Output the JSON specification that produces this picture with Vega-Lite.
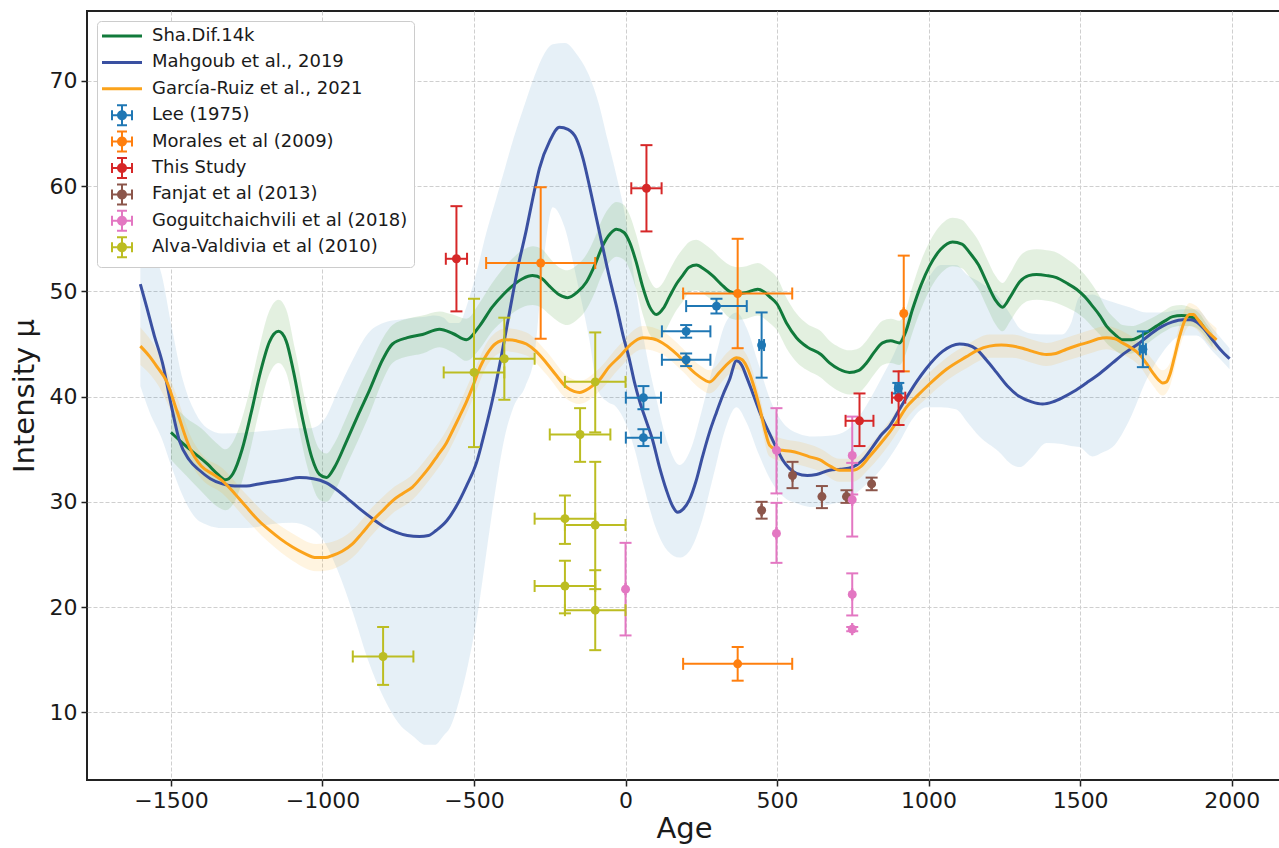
{
  "$schema": "https://vega.github.io/schema/vega-lite/v6.json",
  "autosize": {"type": "none"},
  "width": 1194,
  "height": 769,
  "padding": {"left": 87, "top": 11, "right": -2, "bottom": 68},
  "background": "white",
  "datasets": {
    "green": [
      {"age": -1500, "v": 36.6}, {"age": -1470, "v": 35.8}, {"age": -1430, "v": 34.8}, {"age": -1380, "v": 33.6}, {"age": -1345, "v": 32.6}, {"age": -1320, "v": 32.1}, {"age": -1295, "v": 32.7}, {"age": -1265, "v": 35.0}, {"age": -1235, "v": 38.5}, {"age": -1205, "v": 42.3}, {"age": -1175, "v": 45.2}, {"age": -1145, "v": 46.2}, {"age": -1120, "v": 45.3}, {"age": -1095, "v": 42.3}, {"age": -1065, "v": 37.8}, {"age": -1035, "v": 34.2}, {"age": -1010, "v": 32.6}, {"age": -987, "v": 32.3}, {"age": -960, "v": 33.3}, {"age": -920, "v": 35.8}, {"age": -880, "v": 38.4}, {"age": -845, "v": 40.6}, {"age": -800, "v": 43.6}, {"age": -769, "v": 45.0}, {"age": -720, "v": 45.6}, {"age": -670, "v": 45.9}, {"age": -614, "v": 46.4}, {"age": -570, "v": 46.0}, {"age": -525, "v": 45.4}, {"age": -482, "v": 46.7}, {"age": -440, "v": 48.5}, {"age": -400, "v": 49.8}, {"age": -340, "v": 51.2}, {"age": -307, "v": 51.5}, {"age": -275, "v": 51.2}, {"age": -251, "v": 50.5}, {"age": -220, "v": 49.7}, {"age": -191, "v": 49.4}, {"age": -160, "v": 49.9}, {"age": -129, "v": 50.9}, {"age": -100, "v": 52.6}, {"age": -76, "v": 54.3}, {"age": -50, "v": 55.5}, {"age": -30, "v": 55.9}, {"age": -5, "v": 55.6}, {"age": 13, "v": 54.7}, {"age": 35, "v": 52.8}, {"age": 56, "v": 50.5}, {"age": 80, "v": 48.5}, {"age": 102, "v": 47.8}, {"age": 125, "v": 48.4}, {"age": 145, "v": 49.5}, {"age": 170, "v": 50.8}, {"age": 188, "v": 51.5}, {"age": 210, "v": 52.3}, {"age": 234, "v": 52.5}, {"age": 260, "v": 52.1}, {"age": 287, "v": 51.5}, {"age": 315, "v": 50.7}, {"age": 343, "v": 50.0}, {"age": 370, "v": 49.8}, {"age": 399, "v": 49.9}, {"age": 436, "v": 50.2}, {"age": 460, "v": 49.9}, {"age": 475, "v": 49.5}, {"age": 500, "v": 48.8}, {"age": 531, "v": 47.0}, {"age": 564, "v": 45.6}, {"age": 600, "v": 44.7}, {"age": 645, "v": 44.0}, {"age": 673, "v": 43.2}, {"age": 705, "v": 42.6}, {"age": 739, "v": 42.3}, {"age": 770, "v": 42.5}, {"age": 795, "v": 43.2}, {"age": 820, "v": 44.2}, {"age": 848, "v": 45.1}, {"age": 875, "v": 45.3}, {"age": 904, "v": 45.1}, {"age": 925, "v": 46.2}, {"age": 947, "v": 48.3}, {"age": 975, "v": 50.6}, {"age": 1003, "v": 52.4}, {"age": 1040, "v": 54.0}, {"age": 1079, "v": 54.7}, {"age": 1110, "v": 54.5}, {"age": 1135, "v": 53.7}, {"age": 1165, "v": 52.5}, {"age": 1191, "v": 50.9}, {"age": 1220, "v": 49.2}, {"age": 1244, "v": 48.5}, {"age": 1270, "v": 49.5}, {"age": 1300, "v": 50.9}, {"age": 1330, "v": 51.5}, {"age": 1356, "v": 51.6}, {"age": 1390, "v": 51.5}, {"age": 1422, "v": 51.3}, {"age": 1455, "v": 50.8}, {"age": 1488, "v": 50.2}, {"age": 1515, "v": 49.5}, {"age": 1541, "v": 48.6}, {"age": 1565, "v": 47.7}, {"age": 1587, "v": 46.7}, {"age": 1615, "v": 45.9}, {"age": 1640, "v": 45.4}, {"age": 1670, "v": 45.4}, {"age": 1696, "v": 45.7}, {"age": 1725, "v": 46.2}, {"age": 1752, "v": 46.7}, {"age": 1780, "v": 47.2}, {"age": 1805, "v": 47.6}, {"age": 1835, "v": 47.7}, {"age": 1861, "v": 47.6}, {"age": 1894, "v": 47.1}, {"age": 1915, "v": 46.3}, {"age": 1937, "v": 45.4}
    ],
    "gband": [
      {"age": -1500, "lo": 34.0, "hi": 39.5}, {"age": -1450, "lo": 32.5, "hi": 38.0}, {"age": -1400, "lo": 31.0, "hi": 37.0}, {"age": -1350, "lo": 29.6, "hi": 35.6}, {"age": -1320, "lo": 29.2, "hi": 35.0}, {"age": -1290, "lo": 30.0, "hi": 36.0}, {"age": -1250, "lo": 33.5, "hi": 39.5}, {"age": -1210, "lo": 38.5, "hi": 44.5}, {"age": -1180, "lo": 41.8, "hi": 47.8}, {"age": -1145, "lo": 43.2, "hi": 49.2}, {"age": -1120, "lo": 42.3, "hi": 48.3}, {"age": -1090, "lo": 38.6, "hi": 44.4}, {"age": -1050, "lo": 33.3, "hi": 38.7}, {"age": -1010, "lo": 30.2, "hi": 35.0}, {"age": -987, "lo": 30.0, "hi": 34.6}, {"age": -960, "lo": 31.0, "hi": 35.6}, {"age": -920, "lo": 33.5, "hi": 38.1}, {"age": -880, "lo": 36.0, "hi": 40.8}, {"age": -845, "lo": 38.3, "hi": 42.9}, {"age": -800, "lo": 41.6, "hi": 45.6}, {"age": -769, "lo": 43.2, "hi": 46.8}, {"age": -720, "lo": 43.8, "hi": 47.4}, {"age": -670, "lo": 44.1, "hi": 47.7}, {"age": -614, "lo": 44.7, "hi": 48.1}, {"age": -570, "lo": 44.2, "hi": 47.8}, {"age": -525, "lo": 43.4, "hi": 47.4}, {"age": -482, "lo": 44.5, "hi": 48.9}, {"age": -440, "lo": 46.2, "hi": 50.8}, {"age": -400, "lo": 47.3, "hi": 52.3}, {"age": -340, "lo": 48.5, "hi": 53.9}, {"age": -307, "lo": 48.7, "hi": 54.3}, {"age": -275, "lo": 48.4, "hi": 54.0}, {"age": -251, "lo": 47.8, "hi": 53.2}, {"age": -220, "lo": 47.1, "hi": 52.3}, {"age": -191, "lo": 46.8, "hi": 52.0}, {"age": -160, "lo": 47.3, "hi": 52.5}, {"age": -129, "lo": 48.3, "hi": 53.5}, {"age": -100, "lo": 50.0, "hi": 55.2}, {"age": -76, "lo": 51.7, "hi": 56.9}, {"age": -50, "lo": 52.9, "hi": 58.1}, {"age": -30, "lo": 53.3, "hi": 58.5}, {"age": -5, "lo": 53.0, "hi": 58.2}, {"age": 13, "lo": 52.1, "hi": 57.3}, {"age": 35, "lo": 50.2, "hi": 55.4}, {"age": 56, "lo": 47.9, "hi": 53.1}, {"age": 80, "lo": 45.9, "hi": 51.1}, {"age": 102, "lo": 45.3, "hi": 50.3}, {"age": 125, "lo": 45.9, "hi": 50.9}, {"age": 145, "lo": 47.0, "hi": 52.0}, {"age": 170, "lo": 48.3, "hi": 53.3}, {"age": 188, "lo": 49.0, "hi": 54.0}, {"age": 210, "lo": 49.9, "hi": 54.7}, {"age": 234, "lo": 50.1, "hi": 54.9}, {"age": 260, "lo": 49.7, "hi": 54.5}, {"age": 287, "lo": 49.1, "hi": 53.9}, {"age": 315, "lo": 48.3, "hi": 53.1}, {"age": 343, "lo": 47.5, "hi": 52.5}, {"age": 370, "lo": 47.3, "hi": 52.3}, {"age": 399, "lo": 47.4, "hi": 52.4}, {"age": 436, "lo": 47.7, "hi": 52.7}, {"age": 475, "lo": 47.0, "hi": 52.0}, {"age": 500, "lo": 46.3, "hi": 51.3}, {"age": 531, "lo": 44.6, "hi": 49.4}, {"age": 564, "lo": 43.3, "hi": 47.9}, {"age": 600, "lo": 42.5, "hi": 46.9}, {"age": 645, "lo": 41.8, "hi": 46.2}, {"age": 673, "lo": 41.1, "hi": 45.3}, {"age": 705, "lo": 40.5, "hi": 44.7}, {"age": 739, "lo": 40.2, "hi": 44.4}, {"age": 770, "lo": 40.4, "hi": 44.6}, {"age": 795, "lo": 41.1, "hi": 45.3}, {"age": 820, "lo": 42.1, "hi": 46.3}, {"age": 848, "lo": 43.0, "hi": 47.2}, {"age": 875, "lo": 43.2, "hi": 47.4}, {"age": 904, "lo": 43.0, "hi": 47.2}, {"age": 925, "lo": 44.1, "hi": 48.3}, {"age": 947, "lo": 46.1, "hi": 50.5}, {"age": 975, "lo": 48.3, "hi": 52.9}, {"age": 1003, "lo": 50.1, "hi": 54.7}, {"age": 1040, "lo": 51.7, "hi": 56.3}, {"age": 1079, "lo": 52.4, "hi": 57.0}, {"age": 1110, "lo": 52.2, "hi": 56.8}, {"age": 1135, "lo": 51.4, "hi": 56.0}, {"age": 1165, "lo": 50.2, "hi": 54.8}, {"age": 1191, "lo": 48.6, "hi": 53.2}, {"age": 1220, "lo": 46.9, "hi": 51.5}, {"age": 1244, "lo": 46.2, "hi": 50.8}, {"age": 1270, "lo": 47.2, "hi": 51.8}, {"age": 1300, "lo": 48.5, "hi": 53.3}, {"age": 1330, "lo": 49.1, "hi": 53.9}, {"age": 1356, "lo": 49.2, "hi": 54.0}, {"age": 1390, "lo": 49.1, "hi": 53.9}, {"age": 1422, "lo": 48.9, "hi": 53.7}, {"age": 1455, "lo": 48.5, "hi": 53.1}, {"age": 1488, "lo": 48.0, "hi": 52.4}, {"age": 1515, "lo": 47.4, "hi": 51.6}, {"age": 1541, "lo": 46.6, "hi": 50.6}, {"age": 1565, "lo": 45.9, "hi": 49.5}, {"age": 1587, "lo": 45.1, "hi": 48.3}, {"age": 1615, "lo": 44.4, "hi": 47.4}, {"age": 1640, "lo": 44.0, "hi": 46.8}, {"age": 1670, "lo": 44.1, "hi": 46.7}, {"age": 1696, "lo": 44.5, "hi": 46.9}, {"age": 1725, "lo": 45.1, "hi": 47.3}, {"age": 1752, "lo": 45.7, "hi": 47.7}, {"age": 1780, "lo": 46.2, "hi": 48.2}, {"age": 1805, "lo": 46.6, "hi": 48.6}, {"age": 1835, "lo": 46.7, "hi": 48.7}, {"age": 1861, "lo": 46.7, "hi": 48.5}, {"age": 1894, "lo": 46.3, "hi": 47.9}, {"age": 1915, "lo": 45.6, "hi": 47.0}, {"age": 1937, "lo": 44.7, "hi": 46.1}
    ],
    "blue": [
      {"age": -1601, "v": 50.7}, {"age": -1580, "v": 48.5}, {"age": -1555, "v": 45.8}, {"age": -1528, "v": 43.2}, {"age": -1500, "v": 39.3}, {"age": -1472, "v": 35.8}, {"age": -1440, "v": 34.0}, {"age": -1406, "v": 33.0}, {"age": -1370, "v": 32.2}, {"age": -1330, "v": 31.7}, {"age": -1290, "v": 31.5}, {"age": -1251, "v": 31.5}, {"age": -1210, "v": 31.7}, {"age": -1165, "v": 31.9}, {"age": -1120, "v": 32.1}, {"age": -1076, "v": 32.3}, {"age": -1030, "v": 32.2}, {"age": -987, "v": 31.8}, {"age": -955, "v": 31.2}, {"age": -921, "v": 30.4}, {"age": -880, "v": 29.4}, {"age": -835, "v": 28.4}, {"age": -795, "v": 27.6}, {"age": -756, "v": 27.1}, {"age": -720, "v": 26.8}, {"age": -680, "v": 26.7}, {"age": -650, "v": 26.8}, {"age": -624, "v": 27.3}, {"age": -590, "v": 28.2}, {"age": -558, "v": 29.6}, {"age": -525, "v": 31.5}, {"age": -492, "v": 33.7}, {"age": -465, "v": 36.6}, {"age": -439, "v": 39.7}, {"age": -410, "v": 43.8}, {"age": -383, "v": 48.0}, {"age": -355, "v": 52.3}, {"age": -327, "v": 55.9}, {"age": -305, "v": 59.0}, {"age": -284, "v": 61.7}, {"age": -250, "v": 64.3}, {"age": -218, "v": 65.6}, {"age": -190, "v": 65.4}, {"age": -162, "v": 64.5}, {"age": -140, "v": 62.6}, {"age": -119, "v": 60.0}, {"age": -98, "v": 57.2}, {"age": -76, "v": 54.3}, {"age": -53, "v": 51.3}, {"age": -30, "v": 48.6}, {"age": -8, "v": 45.8}, {"age": 13, "v": 43.5}, {"age": 30, "v": 41.3}, {"age": 46, "v": 39.6}, {"age": 68, "v": 37.7}, {"age": 89, "v": 35.9}, {"age": 112, "v": 33.3}, {"age": 135, "v": 31.1}, {"age": 155, "v": 29.6}, {"age": 172, "v": 29.0}, {"age": 190, "v": 29.3}, {"age": 211, "v": 30.2}, {"age": 233, "v": 32.0}, {"age": 254, "v": 34.3}, {"age": 277, "v": 36.6}, {"age": 300, "v": 38.5}, {"age": 322, "v": 40.2}, {"age": 343, "v": 41.6}, {"age": 366, "v": 43.4}, {"age": 383, "v": 43.0}, {"age": 399, "v": 41.9}, {"age": 420, "v": 40.3}, {"age": 442, "v": 38.6}, {"age": 460, "v": 37.4}, {"age": 480, "v": 36.2}, {"age": 500, "v": 35.0}, {"age": 518, "v": 34.0}, {"age": 540, "v": 33.2}, {"age": 564, "v": 32.7}, {"age": 600, "v": 32.5}, {"age": 630, "v": 32.6}, {"age": 673, "v": 33.0}, {"age": 710, "v": 33.1}, {"age": 749, "v": 33.3}, {"age": 780, "v": 33.9}, {"age": 815, "v": 35.2}, {"age": 845, "v": 36.4}, {"age": 871, "v": 37.2}, {"age": 900, "v": 38.6}, {"age": 927, "v": 39.9}, {"age": 960, "v": 41.4}, {"age": 993, "v": 42.7}, {"age": 1046, "v": 44.3}, {"age": 1102, "v": 45.0}, {"age": 1130, "v": 44.9}, {"age": 1158, "v": 44.5}, {"age": 1190, "v": 43.5}, {"age": 1224, "v": 42.3}, {"age": 1260, "v": 41.0}, {"age": 1300, "v": 40.0}, {"age": 1340, "v": 39.5}, {"age": 1376, "v": 39.3}, {"age": 1410, "v": 39.5}, {"age": 1442, "v": 39.9}, {"age": 1480, "v": 40.5}, {"age": 1521, "v": 41.3}, {"age": 1565, "v": 42.2}, {"age": 1607, "v": 43.2}, {"age": 1650, "v": 44.2}, {"age": 1696, "v": 45.1}, {"age": 1735, "v": 46.0}, {"age": 1772, "v": 46.7}, {"age": 1805, "v": 47.1}, {"age": 1838, "v": 47.3}, {"age": 1865, "v": 47.3}, {"age": 1884, "v": 47.1}, {"age": 1910, "v": 46.4}, {"age": 1937, "v": 45.4}, {"age": 1965, "v": 44.4}, {"age": 1993, "v": 43.6}
    ],
    "bband": [
      {"age": -1601, "lo": 41.0, "hi": 57.0}, {"age": -1570, "lo": 38.5, "hi": 54.5}, {"age": -1530, "lo": 36.0, "hi": 51.5}, {"age": -1500, "lo": 33.5, "hi": 47.0}, {"age": -1460, "lo": 30.5, "hi": 41.5}, {"age": -1420, "lo": 28.5, "hi": 38.5}, {"age": -1380, "lo": 27.8, "hi": 37.0}, {"age": -1330, "lo": 27.5, "hi": 36.5}, {"age": -1250, "lo": 27.5, "hi": 36.6}, {"age": -1165, "lo": 27.9, "hi": 36.8}, {"age": -1100, "lo": 28.0, "hi": 37.0}, {"age": -1040, "lo": 27.5, "hi": 37.0}, {"age": -990, "lo": 26.0, "hi": 38.0}, {"age": -950, "lo": 23.5, "hi": 40.5}, {"age": -900, "lo": 19.5, "hi": 43.5}, {"age": -850, "lo": 15.0, "hi": 46.0}, {"age": -800, "lo": 11.5, "hi": 47.0}, {"age": -750, "lo": 9.0, "hi": 47.3}, {"age": -700, "lo": 7.7, "hi": 47.5}, {"age": -660, "lo": 6.9, "hi": 47.6}, {"age": -630, "lo": 6.9, "hi": 47.7}, {"age": -600, "lo": 7.8, "hi": 47.5}, {"age": -580, "lo": 8.5, "hi": 47.0}, {"age": -550, "lo": 11.0, "hi": 47.0}, {"age": -520, "lo": 14.5, "hi": 49.0}, {"age": -490, "lo": 19.0, "hi": 52.0}, {"age": -460, "lo": 25.0, "hi": 55.5}, {"age": -430, "lo": 31.0, "hi": 58.5}, {"age": -400, "lo": 36.0, "hi": 61.5}, {"age": -370, "lo": 39.0, "hi": 64.5}, {"age": -330, "lo": 41.0, "hi": 68.0}, {"age": -300, "lo": 44.0, "hi": 70.5}, {"age": -270, "lo": 53.0, "hi": 72.5}, {"age": -240, "lo": 58.0, "hi": 73.5}, {"age": -200, "lo": 56.0, "hi": 73.6}, {"age": -160, "lo": 51.0, "hi": 72.5}, {"age": -120, "lo": 45.5, "hi": 70.5}, {"age": -90, "lo": 40.5, "hi": 68.0}, {"age": -60, "lo": 39.5, "hi": 64.5}, {"age": -30, "lo": 39.0, "hi": 61.0}, {"age": 0, "lo": 37.5, "hi": 57.0}, {"age": 30, "lo": 35.0, "hi": 51.0}, {"age": 60, "lo": 31.5, "hi": 45.5}, {"age": 100, "lo": 27.5, "hi": 40.0}, {"age": 140, "lo": 25.3, "hi": 35.5}, {"age": 178, "lo": 24.7, "hi": 33.5}, {"age": 215, "lo": 25.5, "hi": 35.0}, {"age": 250, "lo": 28.0, "hi": 38.5}, {"age": 290, "lo": 32.5, "hi": 43.0}, {"age": 330, "lo": 37.0, "hi": 47.0}, {"age": 366, "lo": 39.0, "hi": 48.0}, {"age": 400, "lo": 37.5, "hi": 46.5}, {"age": 440, "lo": 34.5, "hi": 43.0}, {"age": 480, "lo": 32.0, "hi": 39.5}, {"age": 520, "lo": 30.5, "hi": 37.5}, {"age": 570, "lo": 29.8, "hi": 36.5}, {"age": 620, "lo": 29.5, "hi": 36.2}, {"age": 680, "lo": 29.8, "hi": 36.3}, {"age": 730, "lo": 30.2, "hi": 36.8}, {"age": 780, "lo": 31.3, "hi": 38.5}, {"age": 840, "lo": 33.0, "hi": 41.5}, {"age": 900, "lo": 35.5, "hi": 45.0}, {"age": 950, "lo": 38.0, "hi": 49.0}, {"age": 993, "lo": 39.0, "hi": 51.0}, {"age": 1040, "lo": 39.0, "hi": 52.5}, {"age": 1090, "lo": 38.8, "hi": 52.5}, {"age": 1130, "lo": 37.5, "hi": 51.5}, {"age": 1168, "lo": 36.2, "hi": 50.9}, {"age": 1230, "lo": 34.8, "hi": 49.5}, {"age": 1277, "lo": 33.5, "hi": 47.5}, {"age": 1300, "lo": 33.3, "hi": 46.5}, {"age": 1340, "lo": 34.2, "hi": 46.0}, {"age": 1389, "lo": 35.6, "hi": 45.9}, {"age": 1440, "lo": 35.5, "hi": 45.9}, {"age": 1470, "lo": 35.3, "hi": 47.0}, {"age": 1498, "lo": 35.2, "hi": 49.5}, {"age": 1541, "lo": 34.3, "hi": 49.7}, {"age": 1575, "lo": 34.7, "hi": 49.3}, {"age": 1607, "lo": 35.2, "hi": 49.0}, {"age": 1663, "lo": 37.8, "hi": 48.5}, {"age": 1719, "lo": 41.6, "hi": 48.0}, {"age": 1772, "lo": 44.2, "hi": 48.0}, {"age": 1838, "lo": 45.8, "hi": 48.3}, {"age": 1884, "lo": 45.8, "hi": 48.3}, {"age": 1937, "lo": 44.3, "hi": 46.5}, {"age": 1993, "lo": 42.6, "hi": 44.6}
    ],
    "orange": [
      {"age": -1601, "v": 44.8}, {"age": -1570, "v": 43.8}, {"age": -1545, "v": 42.8}, {"age": -1515, "v": 41.5}, {"age": -1480, "v": 38.6}, {"age": -1439, "v": 35.2}, {"age": -1400, "v": 33.4}, {"age": -1360, "v": 32.6}, {"age": -1330, "v": 32.0}, {"age": -1290, "v": 30.8}, {"age": -1251, "v": 29.5}, {"age": -1210, "v": 28.2}, {"age": -1175, "v": 27.3}, {"age": -1140, "v": 26.5}, {"age": -1099, "v": 25.7}, {"age": -1060, "v": 25.1}, {"age": -1020, "v": 24.7}, {"age": -990, "v": 24.7}, {"age": -967, "v": 24.9}, {"age": -935, "v": 25.3}, {"age": -901, "v": 26.0}, {"age": -870, "v": 27.0}, {"age": -835, "v": 28.2}, {"age": -800, "v": 29.2}, {"age": -769, "v": 30.1}, {"age": -735, "v": 30.8}, {"age": -703, "v": 31.4}, {"age": -675, "v": 32.3}, {"age": -647, "v": 33.3}, {"age": -620, "v": 34.4}, {"age": -591, "v": 35.6}, {"age": -570, "v": 36.8}, {"age": -548, "v": 38.1}, {"age": -525, "v": 39.5}, {"age": -505, "v": 40.9}, {"age": -480, "v": 42.8}, {"age": -449, "v": 44.4}, {"age": -420, "v": 45.2}, {"age": -393, "v": 45.4}, {"age": -360, "v": 45.3}, {"age": -327, "v": 45.0}, {"age": -295, "v": 44.3}, {"age": -261, "v": 43.2}, {"age": -228, "v": 42.0}, {"age": -195, "v": 40.9}, {"age": -170, "v": 40.5}, {"age": -152, "v": 40.4}, {"age": -120, "v": 40.8}, {"age": -86, "v": 41.6}, {"age": -55, "v": 42.8}, {"age": -20, "v": 43.8}, {"age": 15, "v": 44.9}, {"age": 56, "v": 45.6}, {"age": 90, "v": 45.5}, {"age": 122, "v": 45.1}, {"age": 155, "v": 44.4}, {"age": 188, "v": 43.5}, {"age": 215, "v": 42.6}, {"age": 244, "v": 41.9}, {"age": 277, "v": 41.4}, {"age": 310, "v": 42.3}, {"age": 340, "v": 43.2}, {"age": 366, "v": 43.7}, {"age": 385, "v": 43.5}, {"age": 399, "v": 42.9}, {"age": 420, "v": 41.3}, {"age": 442, "v": 39.0}, {"age": 460, "v": 36.8}, {"age": 475, "v": 35.4}, {"age": 495, "v": 35.0}, {"age": 518, "v": 34.9}, {"age": 546, "v": 34.8}, {"age": 574, "v": 34.6}, {"age": 605, "v": 34.3}, {"age": 640, "v": 34.0}, {"age": 675, "v": 33.4}, {"age": 706, "v": 33.0}, {"age": 749, "v": 33.0}, {"age": 778, "v": 33.4}, {"age": 805, "v": 34.3}, {"age": 840, "v": 35.5}, {"age": 871, "v": 36.6}, {"age": 900, "v": 37.8}, {"age": 927, "v": 39.0}, {"age": 960, "v": 40.0}, {"age": 1003, "v": 41.2}, {"age": 1059, "v": 42.6}, {"age": 1125, "v": 43.8}, {"age": 1160, "v": 44.4}, {"age": 1201, "v": 44.8}, {"age": 1240, "v": 44.9}, {"age": 1277, "v": 44.8}, {"age": 1310, "v": 44.6}, {"age": 1343, "v": 44.3}, {"age": 1389, "v": 44.0}, {"age": 1420, "v": 44.1}, {"age": 1455, "v": 44.5}, {"age": 1495, "v": 44.9}, {"age": 1531, "v": 45.2}, {"age": 1560, "v": 45.5}, {"age": 1587, "v": 45.6}, {"age": 1615, "v": 45.5}, {"age": 1640, "v": 45.1}, {"age": 1670, "v": 44.6}, {"age": 1696, "v": 44.0}, {"age": 1720, "v": 43.1}, {"age": 1739, "v": 42.3}, {"age": 1758, "v": 41.6}, {"age": 1772, "v": 41.3}, {"age": 1785, "v": 41.4}, {"age": 1795, "v": 42.0}, {"age": 1810, "v": 43.6}, {"age": 1828, "v": 45.7}, {"age": 1845, "v": 47.2}, {"age": 1861, "v": 47.8}, {"age": 1875, "v": 47.8}, {"age": 1884, "v": 47.5}, {"age": 1900, "v": 46.9}, {"age": 1917, "v": 46.3}, {"age": 1950, "v": 45.4}
    ],
    "oband": [
      {"age": -1601, "lo": 43.0, "hi": 46.6}, {"age": -1545, "lo": 41.2, "hi": 44.4}, {"age": -1480, "lo": 37.2, "hi": 40.0}, {"age": -1439, "lo": 33.9, "hi": 36.5}, {"age": -1400, "lo": 32.2, "hi": 34.6}, {"age": -1330, "lo": 30.8, "hi": 33.2}, {"age": -1251, "lo": 28.3, "hi": 30.7}, {"age": -1175, "lo": 26.1, "hi": 28.5}, {"age": -1099, "lo": 24.4, "hi": 27.0}, {"age": -1020, "lo": 23.4, "hi": 26.0}, {"age": -967, "lo": 23.6, "hi": 26.2}, {"age": -901, "lo": 24.7, "hi": 27.3}, {"age": -835, "lo": 26.9, "hi": 29.5}, {"age": -769, "lo": 28.9, "hi": 31.3}, {"age": -703, "lo": 30.2, "hi": 32.6}, {"age": -647, "lo": 32.1, "hi": 34.5}, {"age": -591, "lo": 34.4, "hi": 36.8}, {"age": -548, "lo": 36.9, "hi": 39.3}, {"age": -505, "lo": 39.7, "hi": 42.1}, {"age": -449, "lo": 43.3, "hi": 45.5}, {"age": -393, "lo": 44.3, "hi": 46.5}, {"age": -327, "lo": 43.9, "hi": 46.1}, {"age": -261, "lo": 42.1, "hi": 44.3}, {"age": -195, "lo": 39.8, "hi": 42.0}, {"age": -152, "lo": 39.3, "hi": 41.5}, {"age": -86, "lo": 40.5, "hi": 42.7}, {"age": -20, "lo": 42.7, "hi": 44.9}, {"age": 56, "lo": 44.5, "hi": 46.7}, {"age": 122, "lo": 44.0, "hi": 46.2}, {"age": 188, "lo": 42.4, "hi": 44.6}, {"age": 244, "lo": 40.8, "hi": 43.0}, {"age": 277, "lo": 40.3, "hi": 42.5}, {"age": 340, "lo": 42.1, "hi": 44.3}, {"age": 366, "lo": 42.6, "hi": 44.8}, {"age": 399, "lo": 41.8, "hi": 44.0}, {"age": 442, "lo": 37.9, "hi": 40.1}, {"age": 475, "lo": 34.3, "hi": 36.5}, {"age": 518, "lo": 33.8, "hi": 36.0}, {"age": 574, "lo": 33.5, "hi": 35.7}, {"age": 640, "lo": 32.9, "hi": 35.1}, {"age": 706, "lo": 31.9, "hi": 34.1}, {"age": 749, "lo": 31.9, "hi": 34.1}, {"age": 805, "lo": 33.2, "hi": 35.4}, {"age": 871, "lo": 35.5, "hi": 37.7}, {"age": 927, "lo": 37.9, "hi": 40.1}, {"age": 1003, "lo": 40.1, "hi": 42.3}, {"age": 1059, "lo": 41.5, "hi": 43.7}, {"age": 1125, "lo": 42.7, "hi": 44.9}, {"age": 1201, "lo": 43.7, "hi": 45.9}, {"age": 1277, "lo": 43.7, "hi": 45.9}, {"age": 1343, "lo": 43.2, "hi": 45.4}, {"age": 1389, "lo": 42.9, "hi": 45.1}, {"age": 1455, "lo": 43.4, "hi": 45.6}, {"age": 1531, "lo": 44.1, "hi": 46.3}, {"age": 1587, "lo": 44.5, "hi": 46.7}, {"age": 1640, "lo": 44.0, "hi": 46.2}, {"age": 1696, "lo": 42.9, "hi": 45.1}, {"age": 1739, "lo": 41.1, "hi": 43.5}, {"age": 1772, "lo": 40.1, "hi": 42.5}, {"age": 1795, "lo": 40.9, "hi": 43.1}, {"age": 1828, "lo": 44.6, "hi": 46.8}, {"age": 1861, "lo": 46.7, "hi": 48.9}, {"age": 1884, "lo": 46.4, "hi": 48.6}, {"age": 1917, "lo": 45.2, "hi": 47.4}, {"age": 1950, "lo": 44.3, "hi": 46.5}
    ],
    "obs": [
      {"s": "Lee (1975)", "age": 300, "v": 48.6, "xlo": 200, "xhi": 400, "ylo": 47.9, "yhi": 49.3},
      {"s": "Lee (1975)", "age": 200, "v": 46.2, "xlo": 120, "xhi": 280, "ylo": 45.6, "yhi": 46.8},
      {"s": "Lee (1975)", "age": 200, "v": 43.5, "xlo": 120, "xhi": 280, "ylo": 42.9, "yhi": 44.1},
      {"s": "Lee (1975)", "age": 449, "v": 44.9, "xlo": 441, "xhi": 457, "ylo": 41.8, "yhi": 48.0},
      {"s": "Lee (1975)", "age": 59, "v": 39.9, "xlo": 1, "xhi": 117, "ylo": 38.8, "yhi": 41.0},
      {"s": "Lee (1975)", "age": 59, "v": 36.1, "xlo": 1, "xhi": 117, "ylo": 35.3, "yhi": 36.9},
      {"s": "Lee (1975)", "age": 900, "v": 40.8, "xlo": 890, "xhi": 910, "ylo": 40.3, "yhi": 41.3},
      {"s": "Lee (1975)", "age": 1707, "v": 44.5, "xlo": 1697, "xhi": 1717, "ylo": 42.8, "yhi": 46.2},
      {"s": "Morales et al (2009)", "age": -280, "v": 52.7, "xlo": -460, "xhi": -100, "ylo": 45.5, "yhi": 59.9},
      {"s": "Morales et al (2009)", "age": 370, "v": 49.8, "xlo": 190, "xhi": 550, "ylo": 44.6, "yhi": 55.0},
      {"s": "Morales et al (2009)", "age": 370, "v": 14.6, "xlo": 190, "xhi": 550, "ylo": 13.0, "yhi": 16.2},
      {"s": "Morales et al (2009)", "age": 918, "v": 47.9, "xlo": 918, "xhi": 918, "ylo": 42.4, "yhi": 53.4},
      {"s": "This Study", "age": -558, "v": 53.1, "xlo": -593, "xhi": -523, "ylo": 48.1, "yhi": 58.1},
      {"s": "This Study", "age": 69, "v": 59.8, "xlo": 19, "xhi": 119, "ylo": 55.7, "yhi": 63.9},
      {"s": "This Study", "age": 772, "v": 37.7, "xlo": 726, "xhi": 818, "ylo": 35.3, "yhi": 40.3},
      {"s": "This Study", "age": 901, "v": 39.9, "xlo": 879, "xhi": 923, "ylo": 37.3, "yhi": 42.4},
      {"s": "Fanjat et al (2013)", "age": 449, "v": 29.2, "xlo": 449, "xhi": 449, "ylo": 28.4, "yhi": 30.0},
      {"s": "Fanjat et al (2013)", "age": 551, "v": 32.5, "xlo": 551, "xhi": 551, "ylo": 31.3, "yhi": 33.8},
      {"s": "Fanjat et al (2013)", "age": 648, "v": 30.5, "xlo": 648, "xhi": 648, "ylo": 29.4, "yhi": 31.5},
      {"s": "Fanjat et al (2013)", "age": 729, "v": 30.5, "xlo": 729, "xhi": 729, "ylo": 29.9, "yhi": 31.1},
      {"s": "Fanjat et al (2013)", "age": 812, "v": 31.7, "xlo": 812, "xhi": 812, "ylo": 31.1, "yhi": 32.3},
      {"s": "Goguitchaichvili et al (2018)", "age": 498, "v": 34.9, "xlo": 498, "xhi": 498, "ylo": 30.8, "yhi": 38.9},
      {"s": "Goguitchaichvili et al (2018)", "age": 498, "v": 27.0, "xlo": 498, "xhi": 498, "ylo": 24.2, "yhi": 29.9},
      {"s": "Goguitchaichvili et al (2018)", "age": 0, "v": 21.7, "xlo": 0, "xhi": 0, "ylo": 17.3, "yhi": 26.1},
      {"s": "Goguitchaichvili et al (2018)", "age": 748, "v": 34.4, "xlo": 748, "xhi": 748, "ylo": 30.7, "yhi": 38.1},
      {"s": "Goguitchaichvili et al (2018)", "age": 748, "v": 30.2, "xlo": 748, "xhi": 748, "ylo": 26.7, "yhi": 33.7},
      {"s": "Goguitchaichvili et al (2018)", "age": 748, "v": 21.2, "xlo": 748, "xhi": 748, "ylo": 19.2, "yhi": 23.2},
      {"s": "Goguitchaichvili et al (2018)", "age": 748, "v": 17.9, "xlo": 748, "xhi": 748, "ylo": 17.7, "yhi": 18.1},
      {"s": "Alva-Valdivia et al (2010)", "age": -800, "v": 15.3, "xlo": -900, "xhi": -700, "ylo": 12.6, "yhi": 18.1},
      {"s": "Alva-Valdivia et al (2010)", "age": -500, "v": 42.3, "xlo": -600, "xhi": -400, "ylo": 35.2, "yhi": 49.3},
      {"s": "Alva-Valdivia et al (2010)", "age": -400, "v": 43.6, "xlo": -500, "xhi": -300, "ylo": 39.7, "yhi": 47.5},
      {"s": "Alva-Valdivia et al (2010)", "age": -100, "v": 41.4, "xlo": -200, "xhi": 0, "ylo": 36.6, "yhi": 46.1},
      {"s": "Alva-Valdivia et al (2010)", "age": -150, "v": 36.4, "xlo": -250, "xhi": -50, "ylo": 33.8, "yhi": 38.9},
      {"s": "Alva-Valdivia et al (2010)", "age": -200, "v": 28.4, "xlo": -300, "xhi": -100, "ylo": 26.0, "yhi": 30.6},
      {"s": "Alva-Valdivia et al (2010)", "age": -100, "v": 27.8, "xlo": -200, "xhi": 0, "ylo": 21.7, "yhi": 33.8},
      {"s": "Alva-Valdivia et al (2010)", "age": -200, "v": 22.0, "xlo": -300, "xhi": -100, "ylo": 19.4, "yhi": 24.4},
      {"s": "Alva-Valdivia et al (2010)", "age": -100, "v": 19.7, "xlo": -200, "xhi": 0, "ylo": 15.9, "yhi": 23.5}
    ],
    "legendrows": [
      {"s": "Sha.Dif.14k"}, {"s": "Mahgoub et al., 2019"}, {"s": "García-Ruiz et al., 2021"}, {"s": "Lee (1975)"}, {"s": "Morales et al (2009)"}, {"s": "This Study"}, {"s": "Fanjat et al (2013)"}, {"s": "Goguitchaichvili et al (2018)"}, {"s": "Alva-Valdivia et al (2010)"}
    ]
  },
  "encoding": {
    "x": {"field": "age", "type": "quantitative", "title": "Age",
      "scale": {"domain": [-1777, 2162.8], "nice": false, "zero": false},
      "axis": {"values": [-1500, -1000, -500, 0, 500, 1000, 1500, 2000], "format": "d", "labelFlush": false, "labelOverlap": false}},
    "y": {"field": "v", "type": "quantitative", "title": "Intensity μ",
      "scale": {"domain": [3.56, 76.65], "nice": false, "zero": false},
      "axis": {"values": [10, 20, 30, 40, 50, 60, 70], "format": "d", "labelOverlap": false}}
  },
  "resolve": {"legend": {"color": "independent", "shape": "independent"}},
  "layer": [
    {"data": {"name": "bband"}, "mark": {"type": "area", "interpolate": "monotone", "color": "#1f77b4", "opacity": 0.11},
      "encoding": {"y": {"field": "lo", "type": "quantitative", "title": "Intensity μ"}, "y2": {"field": "hi"}}},
    {"data": {"name": "gband"}, "mark": {"type": "area", "interpolate": "monotone", "color": "#5aa845", "opacity": 0.17},
      "encoding": {"y": {"field": "lo", "type": "quantitative", "title": "Intensity μ"}, "y2": {"field": "hi"}}},
    {"data": {"name": "oband"}, "mark": {"type": "area", "interpolate": "monotone", "color": "#ffa500", "opacity": 0.12},
      "encoding": {"y": {"field": "lo", "type": "quantitative", "title": "Intensity μ"}, "y2": {"field": "hi"}}},
    {"data": {"name": "green"}, "mark": {"type": "line", "interpolate": "monotone", "color": "#117a3b", "strokeWidth": 3}, "encoding": {}},
    {"data": {"name": "blue"}, "mark": {"type": "line", "interpolate": "monotone", "color": "#3a50a1", "strokeWidth": 3}, "encoding": {}},
    {"data": {"name": "orange"}, "mark": {"type": "line", "interpolate": "monotone", "color": "#fba31b", "strokeWidth": 3}, "encoding": {}},
    {"data": {"name": "obs"}, "mark": {"type": "rule", "strokeWidth": 2},
      "encoding": {"y": {"field": "ylo", "type": "quantitative", "title": "Intensity μ"}, "y2": {"field": "yhi"},
        "color": {"field": "s", "type": "nominal", "legend": null, "scale": {"domain": ["Sha.Dif.14k", "Mahgoub et al., 2019", "García-Ruiz et al., 2021", "Lee (1975)", "Morales et al (2009)", "This Study", "Fanjat et al (2013)", "Goguitchaichvili et al (2018)", "Alva-Valdivia et al (2010)"], "range": ["#117a3b", "#3a50a1", "#fba31b", "#1f77b4", "#ff7f0e", "#d62728", "#8c564b", "#e377c2", "#bcbd22"]}}}},
    {"data": {"name": "obs"}, "mark": {"type": "rule", "strokeWidth": 2},
      "encoding": {"x": {"field": "xlo", "type": "quantitative", "title": "Age"}, "x2": {"field": "xhi"},
        "color": {"field": "s", "type": "nominal", "legend": null}}},
    {"data": {"name": "obs"}, "mark": {"type": "point", "shape": "M-1,0H1", "size": 144, "strokeWidth": 2, "filled": false, "opacity": 1},
      "encoding": {"y": {"field": "ylo", "type": "quantitative", "title": "Intensity μ"}, "color": {"field": "s", "type": "nominal", "legend": null}}},
    {"data": {"name": "obs"}, "mark": {"type": "point", "shape": "M-1,0H1", "size": 144, "strokeWidth": 2, "filled": false, "opacity": 1},
      "encoding": {"y": {"field": "yhi", "type": "quantitative", "title": "Intensity μ"}, "color": {"field": "s", "type": "nominal", "legend": null}}},
    {"data": {"name": "obs"}, "mark": {"type": "point", "shape": "M0,-1V1", "size": 144, "strokeWidth": 2, "filled": false, "opacity": 1},
      "encoding": {"x": {"field": "xlo", "type": "quantitative", "title": "Age"}, "color": {"field": "s", "type": "nominal", "legend": null}}},
    {"data": {"name": "obs"}, "mark": {"type": "point", "shape": "M0,-1V1", "size": 144, "strokeWidth": 2, "filled": false, "opacity": 1},
      "encoding": {"x": {"field": "xhi", "type": "quantitative", "title": "Age"}, "color": {"field": "s", "type": "nominal", "legend": null}}},
    {"data": {"name": "obs"}, "mark": {"type": "point", "shape": "circle", "size": 80, "filled": true, "opacity": 1},
      "encoding": {"color": {"field": "s", "type": "nominal", "legend": null}}},
    {"data": {"name": "legendrows"}, "transform": [{"filter": "datum.s == 'none'"}], "mark": {"type": "point", "filled": true, "opacity": 1},
      "encoding": {
        "x": {"value": 0}, "y": {"value": 0},
        "color": {"field": "s", "type": "nominal",
          "legend": {"title": null, "orient": "none", "legendX": 10, "legendY": 10, "symbolSize": 100, "symbolStrokeWidth": 0, "symbolOffset": -10, "labelOffset": 41, "labelFont": "DejaVu Sans", "labelFontSize": 18, "labelColor": "#1a1a1a", "labelLimit": 500, "rowPadding": 0.4, "padding": 6, "fillColor": "white", "strokeColor": "#cccccc", "cornerRadius": 4, "symbolOpacity": 1}},
        "shape": {"field": "s", "type": "nominal",
          "scale": {"domain": ["Sha.Dif.14k", "Mahgoub et al., 2019", "García-Ruiz et al., 2021", "Lee (1975)", "Morales et al (2009)", "This Study", "Fanjat et al (2013)", "Goguitchaichvili et al (2018)", "Alva-Valdivia et al (2010)"],
            "range": [
              "M4,-2.6L4,-2.6M4,2.6L4,2.6M0,-0.3H8V0.3H0Z",
              "M4,-2.6L4,-2.6M4,2.6L4,2.6M0,-0.3H8V0.3H0Z",
              "M4,-2.6L4,-2.6M4,2.6L4,2.6M0,-0.3H8V0.3H0Z",
              "M4,-2.6L4,-2.6M4,2.6L4,2.6M3.8,-2H4.2V2H3.8ZM2,-0.2H6V0.2H2ZM3,-2.2H5V-1.8H3ZM3,1.8H5V2.2H3ZM1.8,-1H2.2V1H1.8ZM5.8,-1H6.2V1H5.8ZM5,0A1,1,0,1,1,3,0A1,1,0,1,1,5,0Z",
              "M4,-2.6L4,-2.6M4,2.6L4,2.6M3.8,-2H4.2V2H3.8ZM2,-0.2H6V0.2H2ZM3,-2.2H5V-1.8H3ZM3,1.8H5V2.2H3ZM1.8,-1H2.2V1H1.8ZM5.8,-1H6.2V1H5.8ZM5,0A1,1,0,1,1,3,0A1,1,0,1,1,5,0Z",
              "M4,-2.6L4,-2.6M4,2.6L4,2.6M3.8,-2H4.2V2H3.8ZM2,-0.2H6V0.2H2ZM3,-2.2H5V-1.8H3ZM3,1.8H5V2.2H3ZM1.8,-1H2.2V1H1.8ZM5.8,-1H6.2V1H5.8ZM5,0A1,1,0,1,1,3,0A1,1,0,1,1,5,0Z",
              "M4,-2.6L4,-2.6M4,2.6L4,2.6M3.8,-2H4.2V2H3.8ZM2,-0.2H6V0.2H2ZM3,-2.2H5V-1.8H3ZM3,1.8H5V2.2H3ZM1.8,-1H2.2V1H1.8ZM5.8,-1H6.2V1H5.8ZM5,0A1,1,0,1,1,3,0A1,1,0,1,1,5,0Z",
              "M4,-2.6L4,-2.6M4,2.6L4,2.6M3.8,-2H4.2V2H3.8ZM2,-0.2H6V0.2H2ZM3,-2.2H5V-1.8H3ZM3,1.8H5V2.2H3ZM1.8,-1H2.2V1H1.8ZM5.8,-1H6.2V1H5.8ZM5,0A1,1,0,1,1,3,0A1,1,0,1,1,5,0Z",
              "M4,-2.6L4,-2.6M4,2.6L4,2.6M3.8,-2H4.2V2H3.8ZM2,-0.2H6V0.2H2ZM3,-2.2H5V-1.8H3ZM3,1.8H5V2.2H3ZM1.8,-1H2.2V1H1.8ZM5.8,-1H6.2V1H5.8ZM5,0A1,1,0,1,1,3,0A1,1,0,1,1,5,0Z"
            ]},
          "legend": {"title": null, "orient": "none", "legendX": 10, "legendY": 10, "symbolSize": 100, "symbolStrokeWidth": 0, "symbolOffset": -10, "labelOffset": 41, "labelFont": "DejaVu Sans", "labelFontSize": 18, "labelColor": "#1a1a1a", "labelLimit": 500, "rowPadding": 0.4, "padding": 6, "fillColor": "white", "strokeColor": "#cccccc", "cornerRadius": 4, "symbolOpacity": 1}}
      }}
  ],
  "config": {
    "view": {"stroke": "#222", "strokeWidth": 2},
    "font": "DejaVu Sans",
    "axis": {"domain": false, "grid": true, "gridColor": "#cfcfcf", "gridDash": [4, 2], "gridWidth": 1, "tickColor": "#222", "tickWidth": 1.5, "tickSize": 6, "labelFont": "DejaVu Sans", "labelFontSize": 22, "labelColor": "#1a1a1a", "labelPadding": 4, "titleFont": "DejaVu Sans", "titleFontSize": 29, "titleFontWeight": "normal", "titleColor": "#1a1a1a"},
    "axisX": {"titlePadding": 3},
    "axisY": {"titlePadding": 10}
  }
}
